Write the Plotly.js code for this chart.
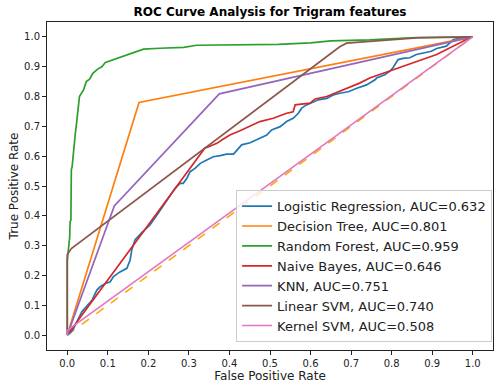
<!DOCTYPE html>
<html>
<head>
<meta charset="utf-8">
<script src="https://cdn.plot.ly/plotly-3.0.1.min.js"></script>
<style>
  html, body { margin: 0; padding: 0; background: #fff; }
  #rocPlot { width: 500px; height: 390px; }
</style>
</head>
<body>
<div id="rocPlot"></div>
<script>
// ROC points
const lrFpr = [0, 0.007, 0.015, 0.025, 0.036, 0.05, 0.061, 0.073, 0.081, 0.094, 0.106, 0.114, 0.13, 0.147, 0.155, 0.159, 0.163, 0.167, 0.185, 0.204, 0.225, 0.245, 0.261, 0.266, 0.278, 0.286, 0.295, 0.303, 0.315, 0.328, 0.344, 0.36, 0.377, 0.393, 0.41, 0.418, 0.43, 0.451, 0.467, 0.483, 0.492, 0.504, 0.525, 0.541, 0.557, 0.57, 0.578, 0.59, 0.607, 0.619, 0.64, 0.656, 0.672, 0.693, 0.714, 0.738, 0.759, 0.763, 0.783, 0.796, 0.804, 0.816, 0.828, 0.845, 0.861, 0.878, 0.898, 0.911, 0.935, 0.952, 0.976, 1];
const lrTpr = [0, 0.007, 0.02, 0.05, 0.078, 0.1, 0.117, 0.151, 0.162, 0.173, 0.179, 0.196, 0.212, 0.224, 0.252, 0.285, 0.302, 0.319, 0.345, 0.369, 0.41, 0.45, 0.481, 0.492, 0.509, 0.509, 0.526, 0.548, 0.559, 0.576, 0.587, 0.598, 0.602, 0.607, 0.607, 0.621, 0.638, 0.645, 0.656, 0.665, 0.671, 0.688, 0.699, 0.716, 0.727, 0.744, 0.761, 0.772, 0.783, 0.789, 0.794, 0.805, 0.811, 0.816, 0.828, 0.839, 0.856, 0.862, 0.873, 0.885, 0.898, 0.924, 0.928, 0.93, 0.941, 0.946, 0.952, 0.961, 0.969, 0.991, 0.997, 1];

const dtFpr = [0, 0.177, 1];
const dtTpr = [0, 0.78, 1];

const rfFpr = [0, 0, 0.006, 0.007, 0.009, 0.01, 0.012, 0.014, 0.02, 0.022, 0.03, 0.04, 0.047, 0.055, 0.063, 0.075, 0.085, 0.094, 0.118, 0.139, 0.159, 0.172, 0.188, 0.229, 0.287, 0.319, 0.52, 0.6, 0.65, 0.746, 0.861, 1];
const rfTpr = [0, 0.25, 0.33, 0.38, 0.386, 0.554, 0.565, 0.598, 0.678, 0.699, 0.8, 0.822, 0.85, 0.858, 0.878, 0.892, 0.9, 0.914, 0.925, 0.934, 0.945, 0.951, 0.959, 0.962, 0.965, 0.972, 0.975, 0.98, 0.987, 0.99, 0.998, 1];

const nbFpr = [0, 0.34, 0.347, 0.369, 0.381, 0.401, 0.426, 0.45, 0.475, 0.508, 0.541, 0.557, 0.562, 0.599, 0.611, 0.64, 0.68, 0.721, 0.746, 0.828, 0.911, 0.993, 1];
const nbTpr = [0, 0.628, 0.631, 0.643, 0.654, 0.671, 0.685, 0.7, 0.716, 0.727, 0.744, 0.749, 0.772, 0.778, 0.792, 0.8, 0.822, 0.845, 0.862, 0.902, 0.941, 0.997, 1];

const knnFpr = [0, 0.116, 0.375, 1];
const knnTpr = [0, 0.433, 0.809, 1];

const lsvmFpr = [0, 0, 0.01, 0.672, 0.689, 0.746, 0.812, 0.861, 1];
const lsvmTpr = [0, 0.27, 0.29, 0.967, 0.979, 0.985, 0.991, 0.997, 1];

const ksvmFpr = [0, 0, 1];
const ksvmTpr = [0, 0.016, 1];

const modelNames = ['Logistic Regression', 'Decision Tree', 'Random Forest', 'Naive Bayes', 'KNN', 'Linear SVM', 'Kernel SVM'];
const aucValues = [0.632, 0.801, 0.959, 0.646, 0.751, 0.740, 0.508];

const colors = ['#1f77b4', '#ff7f0e', '#2ca02c', '#d62728', '#9467bd', '#8c564b', '#e377c2'];
const curves = [
  [lrFpr, lrTpr], [dtFpr, dtTpr], [rfFpr, rfTpr], [nbFpr, nbTpr],
  [knnFpr, knnTpr], [lsvmFpr, lsvmTpr], [ksvmFpr, ksvmTpr]
];

const traces = [{
  x: [0, 1],
  y: [0, 1],
  mode: 'lines',
  line: { color: 'orange', dash: 'dash', width: 1.5 },
  showlegend: false,
  hoverinfo: 'skip'
}];

curves.forEach((c, i) => {
  traces.push({
    x: c[0],
    y: c[1],
    mode: 'lines',
    name: `${modelNames[i]}, AUC=${aucValues[i].toFixed(3)}`,
    line: { color: colors[i], width: 1.7 }
  });
});

const tickVals = [0, 0.1, 0.2, 0.3, 0.4, 0.5, 0.6, 0.7, 0.8, 0.9, 1.0];

const axisCommon = {
  range: [-0.05, 1.05],
  tickvals: tickVals,
  tickformat: '.1f',
  ticks: 'outside',
  ticklen: 4,
  tickcolor: '#222',
  showline: true,
  mirror: true,
  linecolor: '#222',
  linewidth: 1,
  showgrid: false,
  zeroline: false,
  tickfont: { size: 10, color: '#222' }
};

const layout = {
  width: 500,
  height: 390,
  font: { family: 'DejaVu Sans', color: '#222' },
  paper_bgcolor: '#fff',
  plot_bgcolor: '#fff',
  margin: { l: 47, r: 7, t: 22, b: 40 },
  title: {
    text: '<b>ROC Curve Analysis for Trigram features</b>',
    font: { size: 12, color: '#000' },
    x: 0.5, xref: 'paper', y: 0.97, yanchor: 'middle'
  },
  xaxis: Object.assign({}, axisCommon, {
    title: { text: 'False Positive Rate', font: { size: 12 }, standoff: 1 }
  }),
  yaxis: Object.assign({}, axisCommon, {
    title: { text: 'True Positive Rate', font: { size: 12 }, standoff: 2 }
  }),
  legend: {
    x: 0.998, y: 0.024,
    xanchor: 'right', yanchor: 'bottom',
    bgcolor: 'rgba(255,255,255,0.8)',
    bordercolor: '#ccc',
    borderwidth: 1,
    font: { size: 13 },
    itemwidth: 30
  },
  showlegend: true
};

Plotly.newPlot('rocPlot', traces, layout, { displayModeBar: false, staticPlot: true });
</script>
</body>
</html>
